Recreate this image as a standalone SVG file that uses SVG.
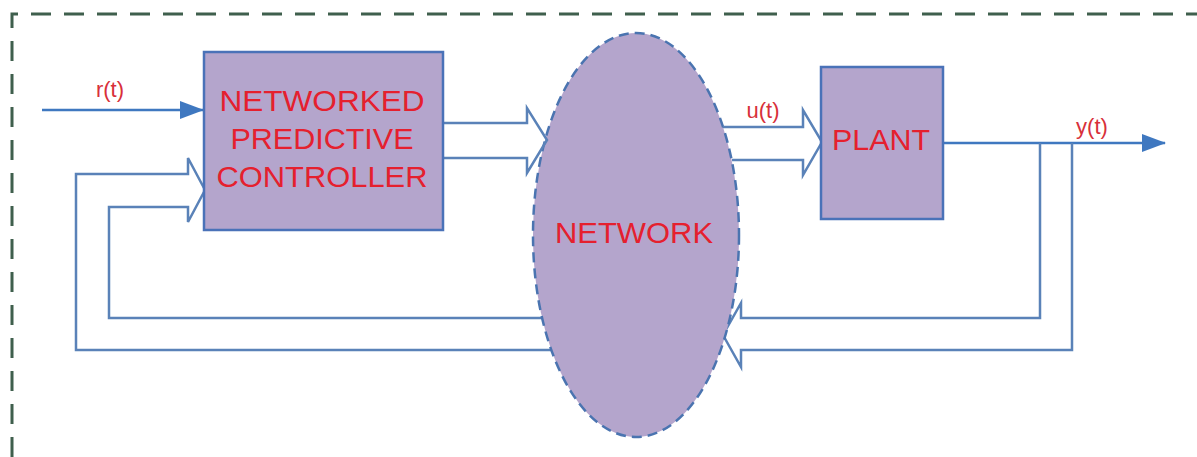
<svg xmlns="http://www.w3.org/2000/svg" width="1197" height="457" viewBox="0 0 1197 457">
<style>
.frame{fill:none;stroke:#3f5f4d;stroke-width:3;stroke-dasharray:20 13}
.box{fill:#b4a5cc;stroke:#4a72b8;stroke-width:2.5}
.net{fill:#b4a5cc;stroke:#4a74b0;stroke-width:2.5;stroke-dasharray:10 6}
.conn{fill:none;stroke:#5a82b8;stroke-width:2.5;stroke-linejoin:miter}
.sig{fill:none;stroke:#3f78c0;stroke-width:2.5}
.lbl{font-family:"Liberation Sans",Arial,sans-serif;fill:#e5202e;text-anchor:middle}
.big{font-size:29px}
.small{font-size:22px;fill:#d8303a}
</style>
<defs>
<marker id="tri2" markerWidth="24" markerHeight="18" refX="23" refY="9" orient="auto" markerUnits="userSpaceOnUse" viewBox="0 0 24 18">
<path d="M0,0 L24,9 L0,18 Z" fill="#3f78c0"/>
</marker>
</defs>
<rect width="1197" height="457" fill="#ffffff"/>
<path class="frame" d="M12,457 V14 H1197"/>
<g id="connectors">
<path class="sig" d="M42,110 H203" marker-end="url(#tri2)"/>
<path class="sig" d="M943,143 H1165" marker-end="url(#tri2)"/>
<path class="conn" d="M542,318 H109 V207 H188 V222 L205,190 L188,158 V174 H76 V350 H551"/>
<path class="conn" d="M1040,143 V318 H741 V303 L723,335 L741,367 V350 H1072 V143"/>
</g>
<g id="network">
<ellipse class="net" cx="636" cy="235" rx="103" ry="202"/>
<text class="lbl big" x="634" y="243" textLength="158" lengthAdjust="spacingAndGlyphs">NETWORK</text>
</g>
<g id="connectors-top">
<path class="conn" d="M443,123 H527 V108 L547,140 L527,173 V158 H443"/>
<path class="conn" d="M723,127 H803 V110 L822,142 L803,175 V160 H732"/>
</g>
<g id="controller">
<rect class="box" x="204" y="52" width="239" height="178"/>
<text class="lbl big" x="322" y="111" textLength="205" lengthAdjust="spacingAndGlyphs">NETWORKED</text>
<text class="lbl big" x="322" y="149" textLength="183" lengthAdjust="spacingAndGlyphs">PREDICTIVE</text>
<text class="lbl big" x="322" y="187" textLength="211" lengthAdjust="spacingAndGlyphs">CONTROLLER</text>
</g>
<g id="plant">
<rect class="box" x="821" y="67" width="122" height="152"/>
<text class="lbl big" x="881" y="150" textLength="98" lengthAdjust="spacingAndGlyphs">PLANT</text>
</g>
<g id="labels">
<text class="lbl small" x="110" y="97">r(t)</text>
<text class="lbl small" x="763" y="118">u(t)</text>
<text class="lbl small" x="1092" y="134">y(t)</text>
</g>
</svg>
